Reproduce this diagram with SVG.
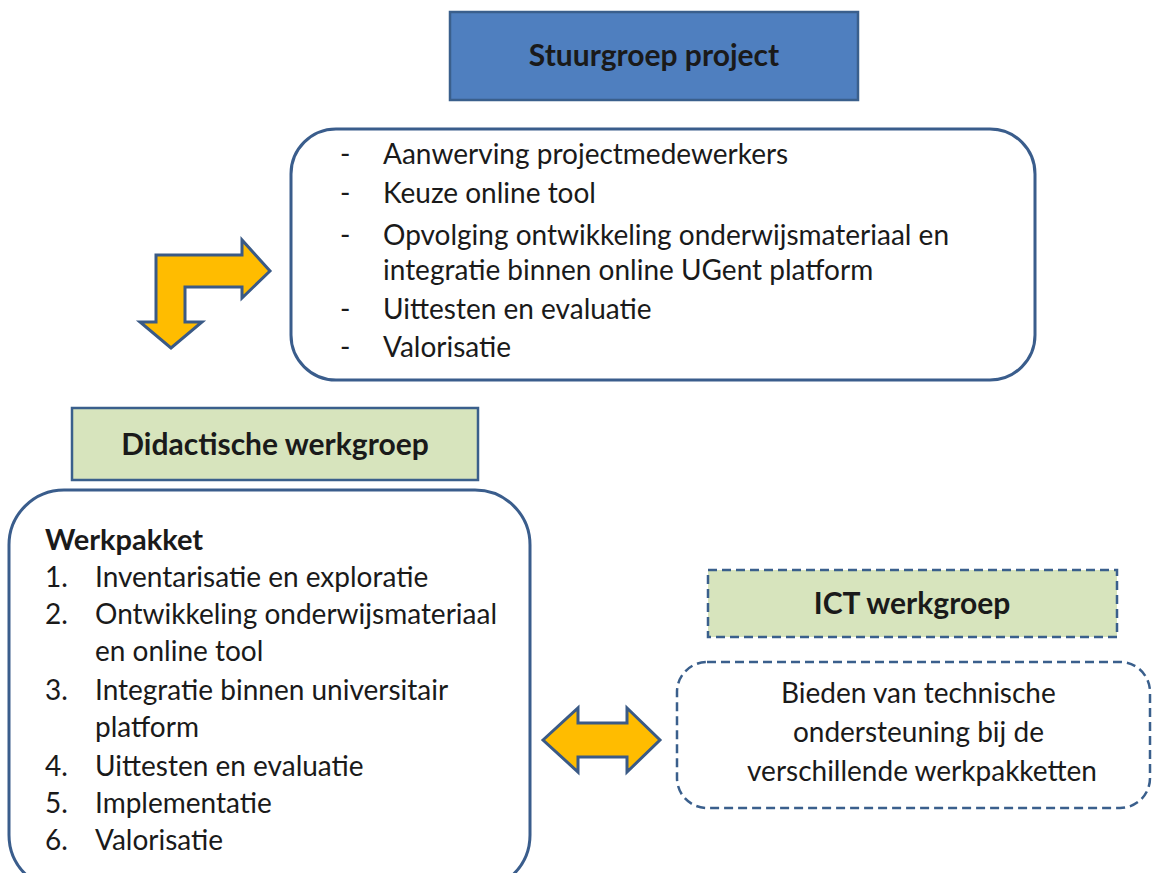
<svg xmlns="http://www.w3.org/2000/svg" width="1153" height="873" viewBox="0 0 1153 873">
<style>
.t{font-family:Lato,"Liberation Sans",sans-serif;font-size:28px;fill:#1a1a1a}
.b{font-weight:bold;font-size:30px}
.box{stroke:#3a5d8c;stroke-width:3}
.arr{fill:#ffbc00;stroke:#3a5a86;stroke-width:3;stroke-linejoin:miter}
</style>
<rect width="1153" height="873" fill="#fff"/>
<g id="stuurgroep">
<rect x="450" y="12" width="408" height="88" fill="#4f7fbf" stroke="#3a5f8c" stroke-width="2.5"/>
<text class="t b" x="654" y="66" text-anchor="middle">Stuurgroep project</text>
</g>
<g id="taken">
<rect x="291" y="129" width="744" height="251" rx="45" fill="#fff" class="box"/>
<text class="t"><tspan x="340" y="164">-</tspan><tspan x="383" y="164">Aanwerving projectmedewerkers</tspan>
<tspan x="340" y="203">-</tspan><tspan x="383" y="203">Keuze online tool</tspan>
<tspan x="340" y="245">-</tspan><tspan x="383" y="245">Opvolging ontwikkeling onderwijsmateriaal en</tspan>
<tspan x="383" y="280">integratie binnen online UGent platform</tspan>
<tspan x="340" y="319">-</tspan><tspan x="383" y="319">Uittesten en evaluatie</tspan>
<tspan x="340" y="357">-</tspan><tspan x="383" y="357">Valorisatie</tspan></text>
</g>
<g id="didactisch">
<rect x="72" y="408" width="406" height="72" fill="#d7e4bd" stroke="#3a5f8c" stroke-width="2.5"/>
<text class="t b" x="275" y="455" text-anchor="middle">Didactische werkgroep</text>
</g>
<g id="werkpakket">
<rect x="9" y="490" width="521" height="400" rx="55" fill="#fff" class="box"/>
<text class="t"><tspan x="45" y="550" font-weight="bold" font-size="29">Werkpakket</tspan>
<tspan x="45" y="587">1.</tspan><tspan x="95" y="587">Inventarisatie en exploratie</tspan>
<tspan x="45" y="624">2.</tspan><tspan x="95" y="624">Ontwikkeling onderwijsmateriaal</tspan>
<tspan x="95" y="661">en online tool</tspan>
<tspan x="45" y="700">3.</tspan><tspan x="95" y="700">Integratie binnen universitair</tspan>
<tspan x="95" y="737">platform</tspan>
<tspan x="45" y="776">4.</tspan><tspan x="95" y="776">Uittesten en evaluatie</tspan>
<tspan x="45" y="813">5.</tspan><tspan x="95" y="813">Implementatie</tspan>
<tspan x="45" y="850">6.</tspan><tspan x="95" y="850">Valorisatie</tspan></text>
</g>
<g id="ict">
<rect x="708" y="570" width="409" height="67" fill="#d7e4bd" stroke="#3a5f8c" stroke-width="2.5" stroke-dasharray="9 5"/>
<text class="t b" x="912" y="614" text-anchor="middle">ICT werkgroep</text>
</g>
<g id="ondersteuning">
<rect x="677" y="662" width="473" height="146" rx="30" fill="#fff" stroke="#3a5f8c" stroke-width="2.5" stroke-dasharray="9 5"/>
<text class="t" text-anchor="middle" font-size="29"><tspan x="922" y="703">Bieden van technische</tspan>
<tspan x="922" y="742">ondersteuning bij de</tspan>
<tspan x="922" y="781">verschillende werkpakketten</tspan></text>
</g>
<g id="connectors">
<path class="arr" d="M156,322 L156,255 L242,255 L242,240 L270,271 L242,298 L242,287 L185,287 L185,322 L202,322 L171,348 L140,322 Z"/>
<path class="arr" d="M543,740 L578,708 L578,723 L627,723 L627,708 L660,740 L627,772 L627,757 L578,757 L578,772 Z"/>
</g>
</svg>
